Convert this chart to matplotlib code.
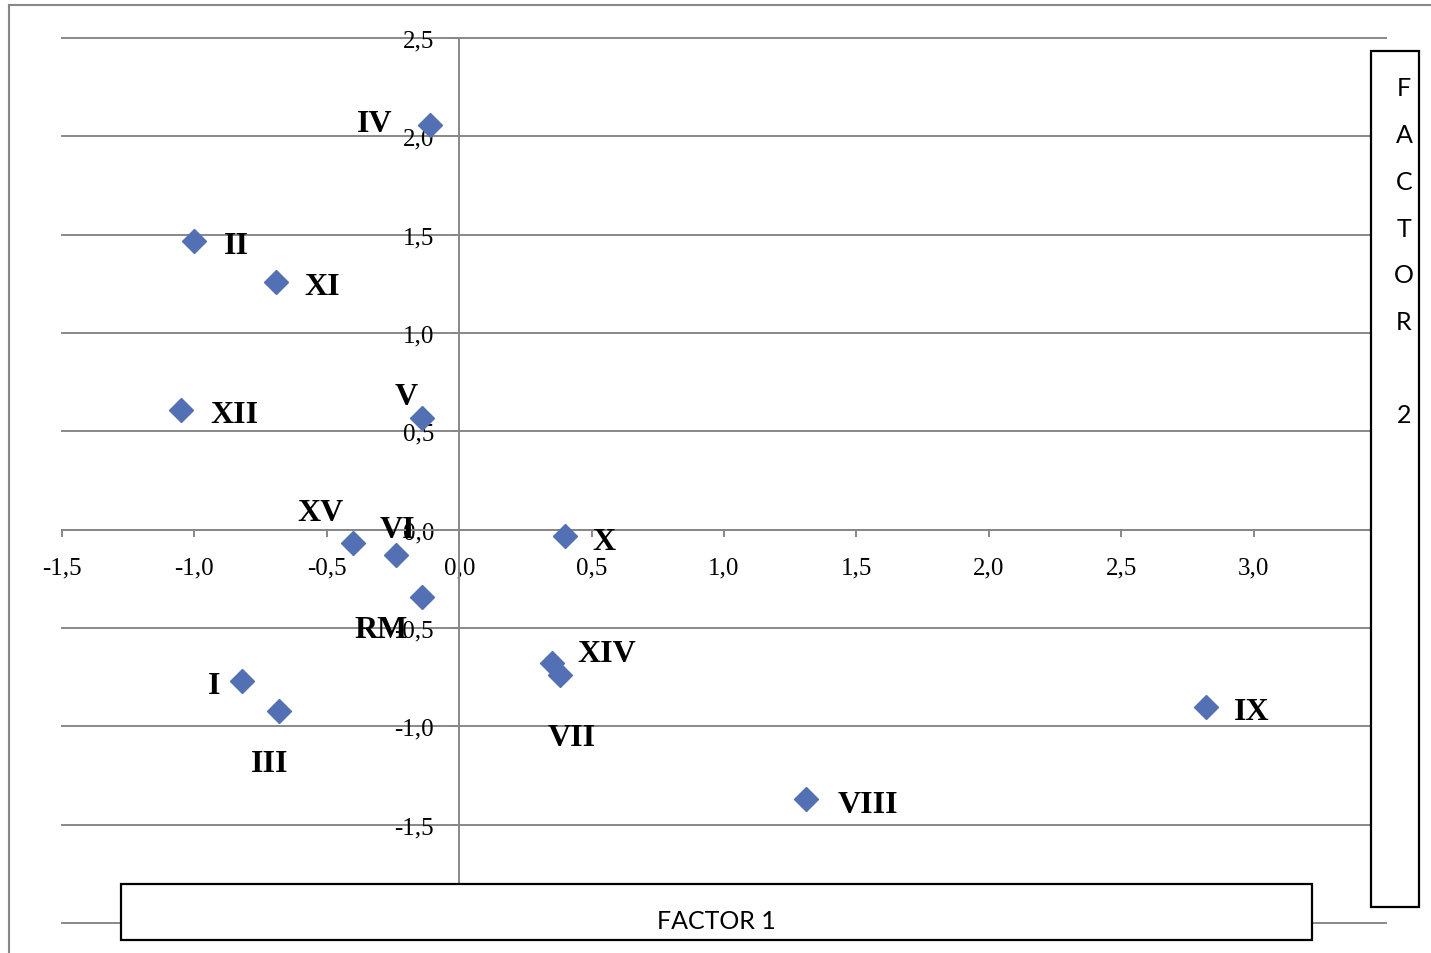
import numpy as np
import matplotlib.pyplot as plt
from matplotlib.patches import Rectangle
from matplotlib.lines import Line2D
from matplotlib.ticker import FuncFormatter

# puntos del analisis factorial (factor 1, factor 2)
etiquetas = ['IV', 'II', 'XI', 'V', 'XII', 'XV', 'VI', 'X', 'RM',
             'XIV', 'VII', 'I', 'III', 'IX', 'VIII']
factor1 = [-0.11, -1.00, -0.69, -0.14, -1.05, -0.40, -0.24, 0.40, -0.14,
           0.35, 0.38, -0.82, -0.68, 2.82, 1.31]
factor2 = [2.06, 1.47, 1.26, 0.57, 0.61, -0.07, -0.13, -0.03, -0.34,
           -0.68, -0.74, -0.77, -0.92, -0.90, -1.37]

# desplazamiento de cada etiqueta (pixeles)
desp = {'IV': (-55, 4), 'II': (42, -2), 'XI': (46, -2), 'V': (-16, 24),
        'XII': (53, -2), 'XV': (-33, 34), 'VI': (2, 29), 'X': (39, -3),
        'RM': (-41, -30), 'XIV': (55, 13), 'VII': (12, -59), 'I': (-28, -1),
        'III': (-10, -50), 'IX': (46, -2), 'VIII': (62, -2)}

W, H = 1431, 954
gris = '#888888'
azul = '#5470B4'

fig = plt.figure(figsize=(W / 100, H / 100), dpi=100)
ax = fig.add_axes([62 / W, 30 / H, (1386 - 62) / W, (924 - 39) / H])
ax.set_facecolor('none')
ax.set_xlim(-1.5, 3.5)
ax.set_ylim(-2.0, 2.5)

ax.plot(factor1, factor2, linestyle='none', marker='D', markersize=12,
        color=azul, zorder=3)
for e, x, y in zip(etiquetas, factor1, factor2):
    dx, dy = desp[e]
    ax.annotate(e, (x, y), xytext=(dx, dy - 3), textcoords='offset pixels',
                ha='center', va='center', fontsize=23, fontweight='bold',
                family='Liberation Serif', zorder=4)

# ejes cruzando en el origen
for s in ['top', 'right']:
    ax.spines[s].set_visible(False)
ax.spines['left'].set_position(('data', 0))
ax.spines['bottom'].set_position(('data', 0))
for s in ['left', 'bottom']:
    ax.spines[s].set_color(gris)
    ax.spines[s].set_linewidth(1.4)

ax.set_xticks(np.arange(-1.5, 3.01, 0.5))
ax.set_yticks(np.arange(-2.0, 2.51, 0.5))
fmt = FuncFormatter(lambda v, p: f'{v:.1f}'.replace('.', ',').replace('-0,0', '0,0'))
ax.xaxis.set_major_formatter(fmt)
ax.yaxis.set_major_formatter(fmt)
ax.tick_params(colors=gris, width=1.4, length=5, labelcolor='black',
               labelsize=18)
ax.tick_params(axis='x', pad=14)
ax.tick_params(axis='y', pad=13)
for lab in ax.get_xticklabels() + ax.get_yticklabels():
    lab.set_family('Liberation Serif')
ax.yaxis.grid(True, color=gris, linewidth=1.4)
ax.set_axisbelow(True)
for gl in ax.yaxis.get_gridlines():
    gl.set_clip_on(False)

# marco exterior del grafico
fig.add_artist(Line2D([9 / W, 1.0], [1 - 6 / H, 1 - 6 / H], color=gris, lw=1.5))
fig.add_artist(Line2D([9 / W, 9 / W], [0, 1 - 6 / H], color=gris, lw=1.5))

# cajas de titulos de ejes
fig.add_artist(Rectangle((121 / W, 1 - 941 / H), (1312 - 121) / W, (941 - 885) / H,
                         facecolor='white', edgecolor='black', lw=1.6, zorder=5))
fig.text(716 / W, 1 - 922 / H, 'FACTOR 1', ha='center', va='center',
         fontsize=18, family='Lato', zorder=6)
fig.add_artist(Rectangle((1371 / W, 1 - 908 / H), (1419 - 1371) / W, (908 - 52) / H,
                         facecolor='white', edgecolor='black', lw=1.6, zorder=5))
letras = ['F', 'A', 'C', 'T', 'O', 'R', '', '2']
for i, l in enumerate(letras):
    fig.text(1404 / W, 1 - (89 + 46.7 * i) / H, l, ha='center', va='center',
             fontsize=18, family='Lato', zorder=6)

fig.savefig('out.png', dpi=100, facecolor='white')
